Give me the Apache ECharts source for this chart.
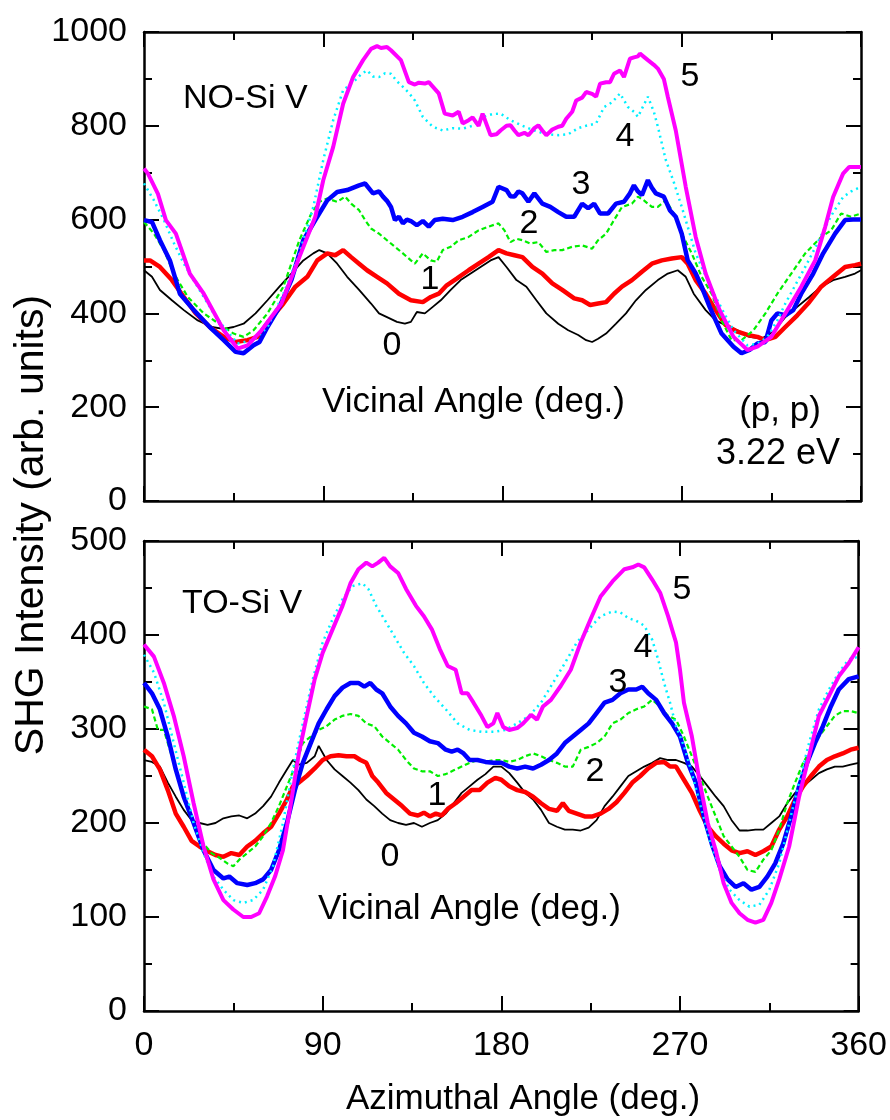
<!DOCTYPE html>
<html>
<head>
<meta charset="utf-8">
<script src="https://cdn.jsdelivr.net/npm/echarts@6/dist/echarts.min.js"></script>
<style>
html,body{margin:0;padding:0;background:#fff;}
#chart{width:890px;height:1120px;}
</style>
</head>
<body>
<div id="chart"></div>
<script>
// ---- axis ticks ----
const xTicks = [0, 90, 180, 270, 360];
const yTicksTop = [0, 200, 400, 600, 800, 1000];
const yTicksBottom = [0, 100, 200, 300, 400, 500];

// ---- top panel (NO-Si V), [azimuth deg, intensity] ----
const top0 = [[0,492],[4,478],[8,450],[14,428],[20,407],[27,385],[34,371],[40,367],[45,371],[50,378],[56,400],[62,428],[68,457],[74,485],[80,513],[85,528],[88,535],[92,528],[97,506],[102,478],[108,450],[114,421],[118,400],[122,392],[127,382],[131,378],[134,382],[137,403],[141,400],[145,414],[149,428],[154,450],[159,471],[164,485],[169,499],[174,513],[178,520],[182,499],[187,471],[192,457],[197,428],[202,400],[208,378],[213,364],[218,354],[222,343],[225,339],[228,346],[232,357],[237,378],[242,400],[247,428],[252,450],[258,471],[263,485],[268,492],[272,478],[276,442],[282,407],[287,385],[292,375],[298,364],[304,350],[310,346],[316,361],[322,392],[328,414],[334,435],[340,457],[346,471],[352,478],[357,485],[360,492]];
const top1 = [[0,513],[3,513],[8,499],[14,471],[20,435],[26,400],[33,371],[40,350],[46,339],[52,343],[57,350],[63,385],[70,421],[76,457],[82,478],[87,513],[92,528],[96,524],[100,535],[104,520],[108,506],[112,492],[117,478],[122,464],[128,442],[134,428],[140,424],[144,435],[148,442],[152,460],[157,474],[163,492],[168,506],[173,520],[178,535],[182,528],[186,524],[190,520],[195,499],[200,485],[205,464],[210,450],[216,432],[220,428],[224,418],[228,421],[232,424],[236,442],[240,457],[245,471],[250,489],[255,506],[260,513],[265,517],[270,520],[273,506],[277,471],[282,442],[287,407],[292,375],[298,361],[303,354],[308,350],[312,343],[317,350],[322,371],[328,396],[334,424],[340,457],[346,478],[352,499],[357,503],[360,506]];
const top2 = [[0,595],[5,570],[10,535],[15,485],[22,435],[30,400],[40,371],[45,357],[50,350],[55,364],[62,400],[70,457],[78,556],[84,613],[88,638],[92,645],[97,638],[101,649],[104,634],[108,620],[111,599],[114,581],[118,570],[122,556],[126,542],[130,528],[134,513],[136,506],[140,528],[144,513],[147,510],[150,535],[154,542],[158,556],[163,563],[168,577],[173,585],[178,592],[181,577],[184,552],[187,559],[190,556],[194,549],[198,552],[202,531],[206,535],[210,535],[215,542],[220,545],[225,538],[228,556],[232,570],[236,599],[240,627],[245,634],[248,649],[251,641],[255,627],[258,627],[262,641],[266,613],[270,570],[275,528],[280,478],[285,442],[290,385],[295,343],[300,343],[306,364],[312,400],[318,442],[325,485],[332,528],[340,563],[345,577],[350,613],[355,606],[360,613]];
const top3 = [[0,599],[4,595],[8,556],[13,513],[18,442],[25,407],[33,371],[40,343],[46,318],[50,315],[55,332],[58,339],[62,371],[68,414],[74,471],[80,556],[86,599],[92,641],[97,659],[102,663],[108,673],[111,677],[115,656],[118,660],[120,649],[122,640],[124,627],[126,599],[128,606],[130,592],[132,600],[134,597],[137,588],[140,597],[143,585],[146,599],[150,602],[155,599],[160,606],[165,616],[170,627],[175,638],[178,670],[182,663],[184,650],[186,649],[188,660],[190,656],[193,638],[196,656],[200,634],[204,627],[208,616],[212,606],[216,606],[220,634],[223,624],[226,634],[229,613],[233,613],[237,634],[241,638],[244,656],[246,673],[248,660],[250,652],[253,684],[255,668],[257,656],[261,649],[264,620],[267,606],[270,570],[273,513],[277,485],[280,457],[284,414],[290,357],[296,329],[300,315],[304,322],[308,336],[312,339],[315,385],[318,400],[322,396],[326,407],[330,442],[336,485],[341,528],[347,570],[352,599],[356,600],[360,600]];
const top4 = [[0,677],[5,641],[10,599],[15,550],[20,506],[25,470],[30,435],[35,400],[40,371],[47,336],[55,343],[62,371],[70,442],[78,528],[85,627],[90,727],[95,812],[100,876],[106,897],[109,910],[112,918],[115,905],[118,904],[121,912],[124,911],[127,895],[130,883],[133,870],[136,854],[140,819],[145,798],[150,790],[155,795],[160,794],[165,800],[170,819],[175,825],[179,826],[184,812],[190,800],[196,790],[202,782],[208,780],[213,782],[218,795],[222,800],[227,805],[231,840],[235,850],[239,869],[243,840],[246,830],[248,819],[251,845],[253,862],[256,830],[258,798],[262,727],[266,680],[270,627],[277,528],[282,480],[287,435],[292,395],[296,364],[303,332],[308,335],[313,350],[318,385],[322,421],[327,460],[332,499],[337,540],[342,584],[346,615],[351,648],[355,660],[360,670]];
const top5 = [[0,709],[2,698],[7,655],[11,599],[16,570],[23,485],[30,442],[40,364],[47,325],[52,332],[59,364],[69,421],[78,520],[86,606],[90,684],[95,755],[100,847],[105,904],[110,940],[114,964],[117,970],[119,966],[122,968],[124,961],[129,940],[133,893],[136,888],[138,892],[141,890],[143,893],[148,869],[151,826],[155,822],[158,830],[160,805],[163,812],[165,818],[168,800],[170,826],[174,780],[177,782],[179,790],[182,800],[184,801],[186,790],[188,780],[191,785],[193,780],[196,795],[198,801],[200,790],[202,780],[205,792],[208,798],[210,800],[212,815],[215,830],[217,854],[220,860],[222,872],[225,868],[227,862],[229,890],[232,893],[234,893],[236,911],[239,918],[241,904],[244,943],[246,946],[248,948],[249,954],[251,947],[253,940],[256,930],[258,922],[261,900],[263,862],[267,790],[272,670],[277,563],[282,485],[289,407],[296,350],[303,322],[308,329],[315,350],[322,400],[330,457],[337,513],[342,584],[346,648],[351,698],[354,712],[360,712]];

// ---- bottom panel (TO-Si V) ----
const bot0 = [[0,267],[4,265],[8,260],[12,243],[16,228],[20,214],[24,203],[28,200],[32,198],[36,200],[40,205],[44,207],[48,208],[52,205],[56,210],[60,218],[64,228],[68,243],[72,257],[75,267],[78,262],[82,264],[86,271],[88,282],[92,267],[96,257],[100,250],[104,243],[108,235],[112,225],[116,218],[120,210],[124,203],[128,200],[132,198],[136,200],[140,196],[144,200],[148,203],[152,210],[156,221],[160,232],[164,239],[168,246],[172,252],[176,260],[180,260],[184,253],[188,243],[192,232],[196,225],[200,214],[204,200],[208,196],[212,193],[216,193],[220,192],[224,195],[228,203],[232,218],[236,228],[240,239],[244,250],[248,255],[252,260],[256,264],[260,269],[264,267],[268,267],[272,264],[276,260],[280,250],[284,239],[288,228],[292,218],[296,203],[300,192],[304,192],[308,193],[312,193],[316,200],[320,207],[324,221],[328,232],[332,239],[336,246],[340,253],[344,257],[348,260],[352,260],[356,262],[360,264]];
const bot1 = [[0,278],[4,271],[8,257],[12,235],[16,210],[20,196],[24,181],[28,175],[32,170],[36,166],[40,164],[44,168],[48,166],[52,175],[56,181],[60,189],[64,196],[68,210],[72,225],[75,239],[78,243],[82,250],[86,258],[90,267],[94,271],[98,272],[102,271],[106,271],[109,267],[112,264],[115,250],[118,243],[122,232],[126,225],[130,218],[134,210],[138,208],[141,211],[144,207],[147,210],[150,208],[153,215],[157,221],[161,228],[165,235],[169,235],[173,243],[177,248],[180,246],[184,239],[188,235],[192,233],[196,228],[200,221],[204,215],[208,213],[211,221],[214,213],[218,210],[222,207],[226,207],[230,210],[234,215],[238,222],[242,232],[246,243],[250,250],[254,258],[258,264],[262,265],[265,260],[268,260],[272,246],[276,232],[280,213],[284,196],[288,186],[292,178],[296,171],[300,168],[304,170],[308,166],[312,170],[316,175],[320,193],[324,207],[328,225],[332,239],[336,250],[340,260],[344,267],[348,271],[352,274],[356,278],[360,280]];
const bot2 = [[0,324],[4,321],[7,299],[10,299],[14,271],[18,243],[22,214],[26,193],[30,178],[34,168],[38,163],[42,157],[45,154],[48,161],[52,168],[56,175],[60,186],[64,200],[68,218],[72,239],[76,260],[80,285],[84,292],[88,299],[92,303],[96,310],[100,314],[104,316],[108,314],[112,306],[116,303],[120,292],[124,285],[128,278],[132,267],[136,258],[140,255],[144,255],[148,250],[152,252],[156,256],[160,260],[164,264],[168,267],[172,265],[176,267],[180,267],[184,265],[188,267],[192,271],[196,274],[200,271],[204,267],[208,264],[212,260],[216,260],[220,278],[224,281],[228,285],[232,292],[236,306],[240,310],[244,317],[248,321],[252,324],[256,331],[260,324],[264,314],[268,310],[272,292],[276,271],[280,250],[284,228],[288,207],[292,186],[296,175],[300,164],[304,150],[308,148],[312,161],[316,171],[320,193],[324,221],[328,243],[332,264],[336,278],[340,292],[344,303],[348,314],[352,319],[356,319],[360,317]];
const bot3 = [[0,349],[4,338],[8,321],[12,292],[16,257],[20,228],[25,200],[30,171],[35,150],[40,141],[43,143],[47,136],[52,134],[56,136],[60,140],[64,150],[68,171],[72,200],[76,235],[80,264],[84,285],[88,306],[92,321],[96,335],[100,344],[104,349],[108,349],[111,345],[114,349],[117,342],[120,338],[124,324],[128,314],[132,306],[136,296],[140,292],[144,287],[148,285],[152,278],[155,276],[158,278],[161,274],[164,267],[168,267],[172,265],[176,264],[180,264],[184,260],[188,258],[192,260],[196,258],[200,262],[204,267],[208,274],[212,285],[216,292],[220,299],[224,306],[228,317],[232,328],[236,331],[240,338],[244,342],[248,342],[251,345],[254,338],[258,331],[262,317],[266,306],[270,292],[274,264],[278,243],[282,207],[286,178],[290,154],[294,140],[298,132],[302,136],[306,129],[310,132],[314,143],[318,157],[322,178],[326,207],[330,239],[334,264],[338,285],[342,303],[346,324],[350,342],[355,353],[360,356]];
const bot4 = [[0,379],[5,360],[10,328],[15,285],[20,243],[25,200],[30,168],[35,143],[40,129],[45,118],[50,115],[55,118],[60,129],[65,154],[70,200],[75,257],[80,306],[85,353],[90,392],[95,417],[100,438],[105,452],[110,455],[113,449],[117,431],[121,417],[126,399],[131,381],[136,367],[141,349],[146,335],[152,321],[158,306],[164,299],[170,297],[176,297],[182,299],[188,306],[194,314],[200,328],[206,349],[212,370],[218,392],[224,406],[230,420],[236,425],[240,424],[244,418],[248,415],[252,410],[256,395],[259,374],[262,349],[265,328],[268,303],[272,282],[276,253],[280,221],[285,182],[290,150],[295,129],[300,118],[305,111],[310,113],[315,129],[320,157],[325,200],[330,243],[335,285],[340,321],[345,342],[350,360],[355,374],[360,377]];
const bot5 = [[0,390],[5,377],[10,349],[15,314],[20,271],[25,221],[30,175],[35,140],[40,118],[45,108],[50,100],[54,100],[58,104],[62,122],[66,143],[70,171],[74,221],[78,274],[82,314],[86,353],[90,381],[95,406],[100,431],[104,455],[108,470],[112,477],[115,473],[118,477],[121,482],[124,473],[128,466],[132,449],[137,431],[141,420],[145,406],[149,385],[153,367],[157,363],[160,338],[163,338],[166,328],[170,314],[173,302],[176,306],[178,317],[181,302],[184,299],[188,301],[191,306],[195,315],[198,310],[201,324],[205,331],[210,346],[215,363],[220,392],[225,417],[230,441],[236,457],[242,470],[246,472],[249,475],[252,472],[256,459],[260,445],[264,420],[268,392],[270,363],[272,328],[276,292],[280,243],[284,200],[288,171],[292,136],[296,115],[300,104],[304,97],[308,94],[312,97],[316,115],[320,140],[325,175],[330,228],[335,271],[340,314],[345,335],[350,356],[355,370],[360,387]];

const FONT = "'Liberation Sans', Arial, Helvetica, sans-serif";

const chart = echarts.init(document.getElementById('chart'), null, {renderer: 'canvas'});

function xAx(grid, pos, labels) {
  return {
    type: 'value', gridIndex: grid, position: pos, min: xTicks[0], max: xTicks[xTicks.length - 1], interval: 90,
    axisLine: {show: true, onZero: false, lineStyle: {color: '#000', width: 2.5}},
    axisTick: {show: true, inside: true, length: 15, lineStyle: {color: '#000', width: 2}},
    minorTick: {show: true, splitNumber: 2, length: 8, lineStyle: {color: '#000', width: 2}},
    splitLine: {show: false},
    axisLabel: {show: labels, color: '#000', fontSize: 34, fontFamily: FONT, margin: 18,
      formatter: v => xTicks.indexOf(v) >= 0 ? String(v) : ''}
  };
}
function yAx(grid, pos, ticks, labels) {
  return {
    type: 'value', gridIndex: grid, position: pos, min: ticks[0], max: ticks[ticks.length - 1],
    interval: ticks[1] - ticks[0],
    axisLine: {show: true, onZero: false, lineStyle: {color: '#000', width: 2.5}},
    axisTick: {show: true, inside: true, length: 15, lineStyle: {color: '#000', width: 2}},
    minorTick: {show: true, splitNumber: 2, length: 8, lineStyle: {color: '#000', width: 2}},
    splitLine: {show: false},
    axisLabel: {show: labels, color: '#000', fontSize: 34, fontFamily: FONT, margin: 17,
      formatter: v => ticks.indexOf(v) >= 0 ? String(v) : ''}
  };
}

const styles = [
  {color: '#000000', width: 1.8, type: 'solid'},
  {color: '#ff0000', width: 4.5, type: 'solid'},
  {color: '#00ee00', width: 2.2, type: [5, 3]},
  {color: '#0000ff', width: 4.5, type: 'solid'},
  {color: '#00f0ff', width: 2.5, type: [2, 4]},
  {color: '#ff00ff', width: 4, type: 'solid'}
];
const topSets = [top0, top1, top2, top3, top4, top5];
const botSets = [bot0, bot1, bot2, bot3, bot4, bot5];
const drawOrder = [0, 2, 4, 1, 3, 5];

const series = [];
drawOrder.forEach(i => {
  series.push({type: 'line', xAxisIndex: 0, yAxisIndex: 0, data: topSets[i], showSymbol: false, symbol: 'none',
    lineStyle: styles[i], itemStyle: {color: styles[i].color}, z: 2 + i, silent: true});
  series.push({type: 'line', xAxisIndex: 2, yAxisIndex: 2, data: botSets[i], showSymbol: false, symbol: 'none',
    lineStyle: styles[i], itemStyle: {color: styles[i].color}, z: 2 + i, silent: true});
});

function txt(x, y, s, size, align, rot) {
  return {type: 'text', x: x, y: y, rotation: rot || 0, z: 100, silent: true,
    style: {text: s, font: (size || 34) + 'px ' + FONT, fill: '#000',
      textAlign: align || 'center', align: align || 'center', textVerticalAlign: 'middle', verticalAlign: 'middle'}};
}

const graphics = [
  txt(183, 99, 'NO-Si V', 34, 'left'),
  txt(690, 77, '5'), txt(625, 137, '4'), txt(581, 185, '3'), txt(529, 224, '2'), txt(430, 280, '1'), txt(392, 346, '0'),
  txt(322, 402, 'Vicinal Angle (deg.)', 35, 'left'),
  txt(780, 411, '(p, p)', 35), txt(778, 454, '3.22 eV', 36),
  txt(182, 604, 'TO-Si V', 34, 'left'),
  txt(682, 590, '5'), txt(643, 648, '4'), txt(618, 683, '3'), txt(595, 772, '2'), txt(437, 796, '1'), txt(390, 857, '0'),
  txt(318, 909, 'Vicinal Angle (deg.)', 35, 'left'),
  txt(523, 1099, 'Azimuthal Angle (deg.)', 35),
  txt(32, 525, 'SHG Intensity (arb. units)', 41, 'center', Math.PI / 2)
];

chart.setOption({
  animation: false,
  backgroundColor: '#fff',
  grid: [
    {left: 144, right: 29, top: 32, height: 469, containLabel: false},
    {left: 144, right: 29, top: 541, height: 470, containLabel: false}
  ],
  xAxis: [xAx(0, 'bottom', false), xAx(0, 'top', false), xAx(1, 'bottom', true), xAx(1, 'top', false)],
  yAxis: [yAx(0, 'left', yTicksTop, true), yAx(0, 'right', yTicksTop, false),
          yAx(1, 'left', yTicksBottom, true), yAx(1, 'right', yTicksBottom, false)],
  series: series,
  graphic: graphics
});
</script>
</body>
</html>
